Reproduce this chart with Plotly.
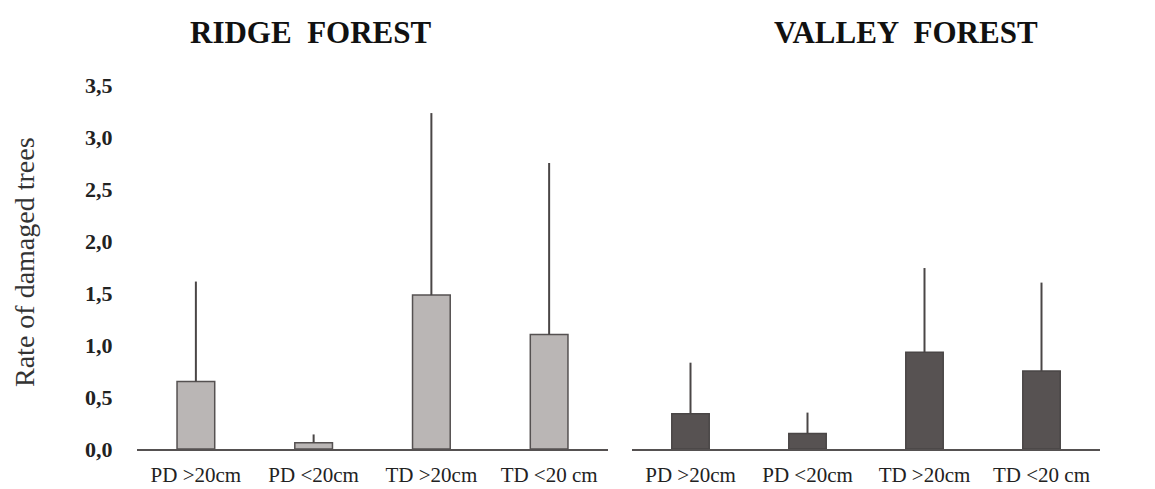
import plotly.graph_objects as go

categories = ["PD >20cm", "PD <20cm", "TD >20cm", "TD <20 cm"]
ridge_values = [0.65, 0.06, 1.48, 1.10]
ridge_err = [0.96, 0.08, 1.75, 1.65]
valley_values = [0.34, 0.15, 0.93, 0.75]
valley_err = [0.49, 0.20, 0.81, 0.85]
y_tickvals = [0, 0.5, 1.0, 1.5, 2.0, 2.5, 3.0, 3.5]
y_ticktext = ["0,0", "0,5", "1,0", "1,5", "2,0", "2,5", "3,0", "3,5"]

SERIF = "Liberation Serif, Times New Roman, serif"
OFF = 8  # page body margin
FW, FH = 1155 - OFF, 489 - OFF


def px(x):
    return (x - OFF) / FW


def py(y):
    return 1 - (y - OFF) / FH


fig = go.Figure()
fig.add_trace(go.Bar(
    x=categories, y=ridge_values, xaxis="x", yaxis="y",
    marker=dict(color="#bab6b5", line=dict(color="#555151", width=1.5)),
    width=0.32,
    error_y=dict(type="data", array=ridge_err, arrayminus=[0] * 4, symmetric=False,
                 width=0, thickness=2, color="#4a4646"),
    showlegend=False,
))
fig.add_trace(go.Bar(
    x=categories, y=valley_values, xaxis="x2", yaxis="y2",
    marker=dict(color="#575252", line=dict(color="#4a4646", width=1.5)),
    width=0.32,
    error_y=dict(type="data", array=valley_err, arrayminus=[0] * 4, symmetric=False,
                 width=0, thickness=2, color="#4a4646"),
    showlegend=False,
))

top, bottom = 85, 449
ydom = [py(bottom), py(top)]

axis_common = dict(showgrid=False, zeroline=False, showline=True, linecolor="#555151",
                   linewidth=2, ticks="outside", ticklen=6, tickcolor="rgba(0,0,0,0)",
                   tickfont=dict(family=SERIF, size=21, color="#222"),
                   automargin=False)
yaxis_common = dict(range=[0, 3.5], showgrid=False, zeroline=False, showline=False,
                    domain=ydom, automargin=False)

fig.update_layout(
    width=FW, height=FH,
    margin=dict(l=0, r=0, t=0, b=0),
    paper_bgcolor="white", plot_bgcolor="white",
    xaxis=dict(domain=[px(137), px(608)], anchor="y", **axis_common),
    xaxis2=dict(domain=[px(632), px(1100)], anchor="y2", **axis_common),
    yaxis=dict(anchor="x", tickvals=y_tickvals, ticktext=y_ticktext,
               tickfont=dict(family=SERIF, size=22, color="#222", weight="bold"),
               ticklen=19, ticks="outside", tickcolor="rgba(0,0,0,0)", **yaxis_common),
    yaxis2=dict(anchor="x2", showticklabels=False, **yaxis_common),
    annotations=[
        dict(text="<b>RIDGE  FOREST</b>", x=px(310), y=py(32), xref="paper", yref="paper",
             xanchor="center", yanchor="middle", showarrow=False,
             font=dict(family=SERIF, size=31, color="#111")),
        dict(text="<b>VALLEY  FOREST</b>", x=px(906), y=py(32), xref="paper", yref="paper",
             xanchor="center", yanchor="middle", showarrow=False,
             font=dict(family=SERIF, size=31, color="#111")),
        dict(text="Rate of damaged trees", x=px(24), y=py(262), xref="paper", yref="paper",
             xanchor="center", yanchor="middle",
             showarrow=False, textangle=-90, font=dict(family=SERIF, size=28, color="#333")),
    ],
)

fig.write_html("out.html")
